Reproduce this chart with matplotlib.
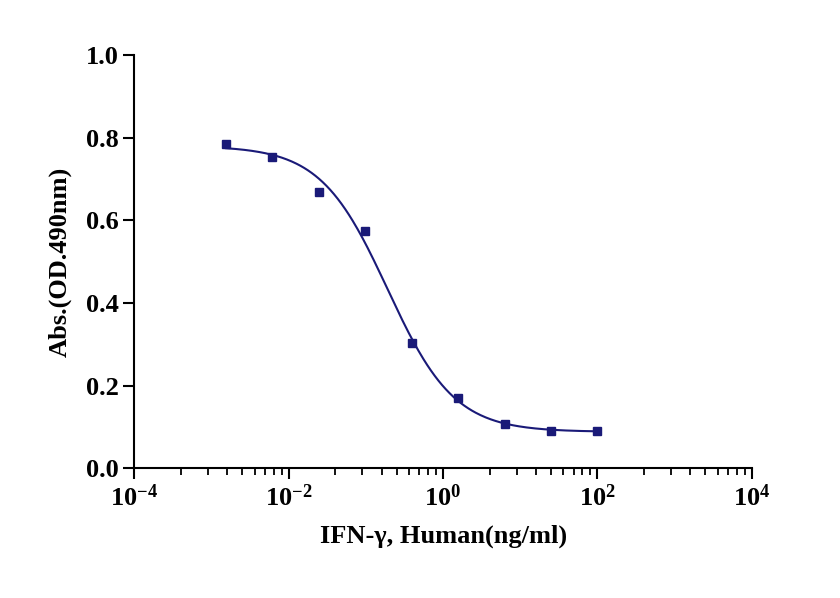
import numpy as np
import matplotlib; matplotlib.use("Agg")
import matplotlib.pyplot as plt
from matplotlib.ticker import FixedLocator

conc = [0.00153, 0.0061, 0.0244, 0.0977, 0.391, 1.5625, 6.25, 25, 100]
absv = [0.785, 0.753, 0.668, 0.574, 0.303, 0.170, 0.107, 0.090, 0.090]
# 4PL fit parameters (estimated)
top, bottom, ec50, hill = 0.780, 0.088, 0.19, 1.0

plt.rcParams.update({"font.family": "Liberation Serif", "font.weight": "bold",
                     "mathtext.fontset": "custom", "mathtext.rm": "Liberation Serif:bold",
                     "mathtext.default": "rm"})
NAVY = "#1a1a78"
fig = plt.figure(figsize=(8.4, 5.98), dpi=100)
ax = fig.add_axes([0.16, 0.217, 0.735, 0.691])

xs = np.logspace(np.log10(conc[0]), np.log10(conc[-1]), 300)
ax.plot(xs, bottom + (top - bottom) / (1 + (xs / ec50) ** hill), color=NAVY, lw=1.5)
ax.plot(conc, absv, "s", color=NAVY, ms=6)

ax.set_xscale("log")
ax.set_xlim(1e-4, 1e4); ax.set_ylim(0, 1.0)
ax.set_xticks([1e-4, 1e-2, 1e0, 1e2, 1e4])
ax.set_xticklabels(["10$^{-4}$", "10$^{-2}$", "10$^{0}$", "10$^{2}$", "10$^{4}$"])
ax.xaxis.set_minor_locator(FixedLocator([k * k * 10.0**e for e in range(-4, 4, 2) for k in range(2, 10)]))
ax.set_yticks(np.arange(0, 1.01, 0.2))
ax.set_yticklabels([f"{v:.1f}" for v in np.arange(0, 1.01, 0.2)])
for s in ("top", "right"): ax.spines[s].set_visible(False)
for s in ("left", "bottom"): ax.spines[s].set_linewidth(1.5)
ax.tick_params(which="major", length=8, width=1.5, labelsize=19)
ax.tick_params(which="minor", length=5, width=1.3)
ax.set_xlabel("IFN-γ, Human(ng/ml)", fontsize=19, fontweight="bold", labelpad=10)
ax.set_ylabel("Abs.(OD.490nm)", fontsize=19, fontweight="bold", labelpad=10)
fig.savefig("out.png", dpi=100)
